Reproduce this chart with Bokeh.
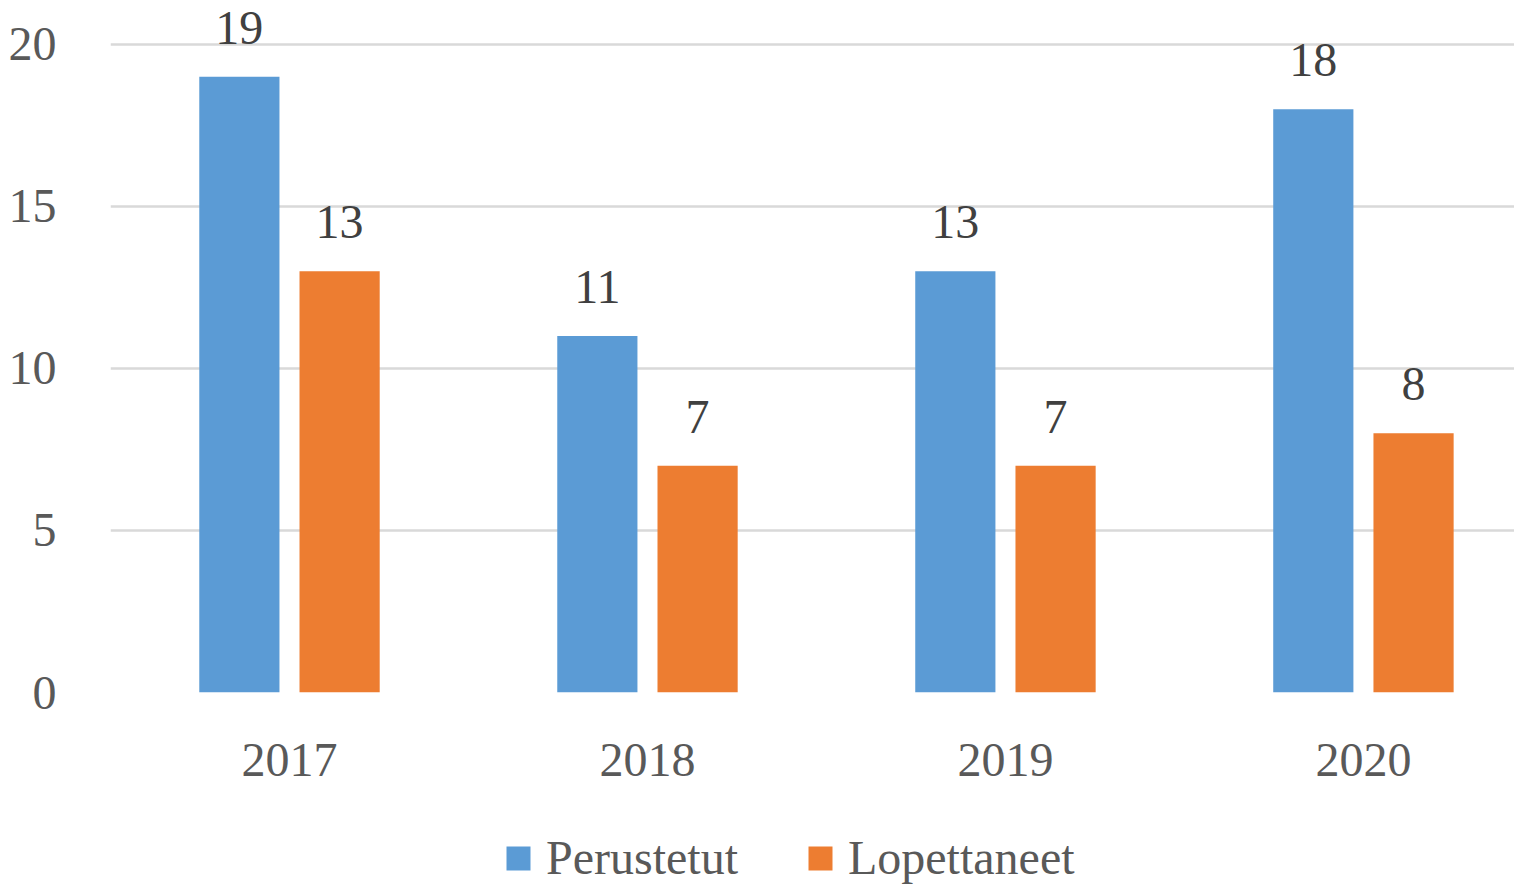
from bokeh.plotting import figure
from bokeh.layouts import column
from bokeh.models import ColumnDataSource, FixedTicker, Range1d, Legend, LegendItem, LabelSet
from bokeh.transform import dodge
from bokeh.embed import file_html
from bokeh.resources import INLINE

years = ["2017", "2018", "2019", "2020"]
perustetut = [19, 11, 13, 18]
lopettaneet = [13, 7, 7, 8]
series_names = ["Perustetut", "Lopettaneet"]
y_ticks = [0, 5, 10, 15, 20]

BLUE = "#5B9BD5"
ORANGE = "#ED7D31"
TXT = "#595959"
FONT = "Liberation Serif"
FS = "48px"

idx = list(range(len(years)))
src = ColumnDataSource(dict(
    x=idx, p=perustetut, l=lopettaneet,
    pl=[str(v) for v in perustetut], ll=[str(v) for v in lopettaneet],
))

p = figure(frame_width=1404, frame_height=684,
           x_range=Range1d(-0.5, 3.422), y_range=Range1d(0, 21.11),
           output_backend="svg", toolbar_location=None,
           min_border_left=110, min_border_top=8, min_border_right=0,
           min_border_bottom=120)

OFF = 0.14
W = 0.224
p.vbar(x=dodge("x", -OFF), top="p", width=W, source=src, color=BLUE, line_color=None)
p.vbar(x=dodge("x", OFF), top="l", width=W, source=src, color=ORANGE, line_color=None)

for col, txt, off in (("p", "pl", -OFF), ("l", "ll", OFF)):
    p.add_layout(LabelSet(x=dodge("x", off), y=col, text=txt, source=src,
                          text_align="center", text_baseline="alphabetic", y_offset=33,
                          text_font=FONT, text_font_size=FS, text_color="#404040"))

p.xaxis.ticker = FixedTicker(ticks=idx)
p.xaxis.major_label_overrides = {i: y for i, y in zip(idx, years)}
p.yaxis.ticker = FixedTicker(ticks=y_ticks)
for ax in (p.xaxis, p.yaxis):
    ax.axis_line_color = None
    ax.major_tick_line_color = None
    ax.minor_tick_line_color = None
    ax.major_label_text_font = FONT
    ax.major_label_text_font_size = FS
    ax.major_label_text_color = TXT
p.xaxis.major_label_standoff = 45
p.yaxis.major_label_standoff = 48

p.xgrid.grid_line_color = None
p.ygrid.grid_line_color = "#d9d9d9"
p.ygrid.grid_line_width = 2.5
p.outline_line_color = None

# legend strip below the chart (frame aligned with the chart's frame)
lg = figure(frame_width=1404, height=76, x_range=Range1d(0, 1), y_range=Range1d(0, 1),
            output_backend="svg", toolbar_location=None,
            min_border_left=110, min_border_right=0, min_border_top=0, min_border_bottom=0)
lg.axis.visible = False
lg.grid.grid_line_color = None
lg.outline_line_color = None
# zero-height placeholder bars: only their legend swatches are visible
placeholder = ColumnDataSource(dict(x=[0.5], top=[0]))
d1 = lg.vbar(x="x", top="top", width=0.0, source=placeholder, color=BLUE, line_color=None)
d2 = lg.vbar(x="x", top="top", width=0.0, source=placeholder, color=ORANGE, line_color=None)

legend = Legend(items=[LegendItem(label=series_names[0], renderers=[d1]),
                       LegendItem(label=series_names[1], renderers=[d2])],
                orientation="horizontal", location=(393, 3),
                label_text_font=FONT, label_text_font_size=FS, label_text_color=TXT,
                glyph_width=30, glyph_height=30, label_standoff=13, spacing=67,
                margin=0, padding=0, border_line_color=None, background_fill_alpha=0)
lg.add_layout(legend, "center")

layout = column(p, lg, spacing=0)
open("out.html", "w").write(file_html(layout, INLINE))
